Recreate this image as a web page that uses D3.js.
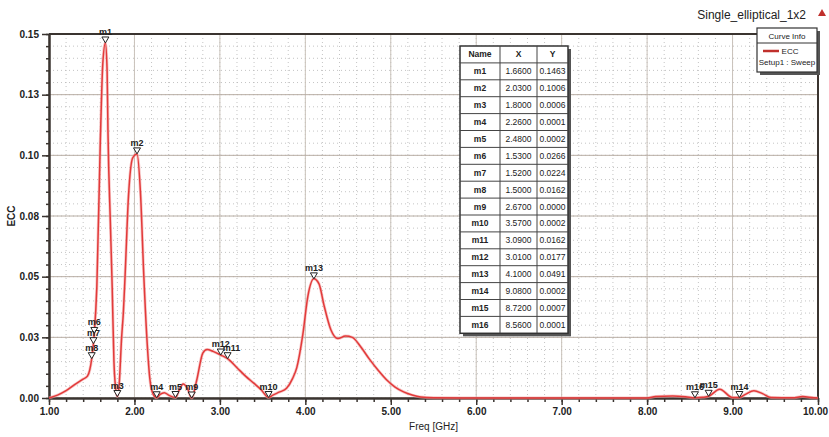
<!DOCTYPE html>
<html>
<head>
<meta charset="utf-8">
<script src="https://cdn.jsdelivr.net/npm/d3@7"></script>
<style>
  body { margin: 0; background: #fff; }
  text { font-family: "Liberation Sans Narrow", "Liberation Sans", Arial, sans-serif; }
</style>
</head>
<body>
<div id="chart"></div>
<script>
// ECC curve
var freq = [1.00, 1.10, 1.20, 1.30, 1.40, 1.45, 1.50, 1.52, 1.53, 1.56, 1.60, 1.63, 1.66, 1.68, 1.69,
            1.72, 1.74, 1.76, 1.78, 1.80, 1.82, 1.85, 1.87, 1.89, 1.93, 1.98, 2.03, 2.07, 2.11, 2.15,
            2.18, 2.22, 2.26, 2.30, 2.35, 2.40, 2.48, 2.52, 2.57, 2.62, 2.67, 2.73, 2.80, 2.85, 2.92,
            3.01, 3.09, 3.20, 3.30, 3.40, 3.48, 3.57, 3.62, 3.70, 3.78, 3.85, 3.90, 3.97, 4.03, 4.10,
            4.16, 4.22, 4.30, 4.38, 4.47, 4.55, 4.65, 4.75, 4.85, 4.95, 5.05, 5.15, 5.25, 5.35, 5.50,
            6.00, 7.00, 8.00, 8.10, 8.30, 8.45, 8.56, 8.65, 8.72, 8.85, 9.00, 9.08, 9.15, 9.25, 9.35,
            9.45, 9.70, 9.82, 9.95, 10.00];
var ecc = [0.0000, 0.0012, 0.0030, 0.0055, 0.0078, 0.0090, 0.0162, 0.0224, 0.0266, 0.0460, 0.1050, 0.1380, 0.1463, 0.1350, 0.1100,
           0.0700, 0.0450, 0.0150, 0.0040, 0.0006, 0.0050, 0.0250, 0.0350, 0.0500, 0.0830, 0.0990, 0.1006, 0.0850, 0.0500, 0.0220,
           0.0080, 0.0015, 0.0001, 0.0015, 0.0022, 0.0012, 0.0002, 0.0030, 0.0058, 0.0040, 0.0000, 0.0075, 0.0185, 0.0200, 0.0192,
           0.0177, 0.0162, 0.0125, 0.0090, 0.0060, 0.0035, 0.0002, 0.0012, 0.0025, 0.0040, 0.0080, 0.0125, 0.0260, 0.0420, 0.0491,
           0.0470, 0.0380, 0.0280, 0.0245, 0.0255, 0.0250, 0.0210, 0.0160, 0.0115, 0.0075, 0.0045, 0.0025, 0.0012, 0.0004, 0.0001,
           0.0000, 0.0000, 0.0000, 0.0006, 0.0008, 0.0005, 0.0001, 0.0003, 0.0007, 0.0036, 0.0002, 0.0002, 0.0015, 0.0030, 0.0018,
           0.0002, 0.0001, 0.0006, 0.0001, 0.0000];

// markers (also the table)
var markerNames = ["m1", "m2", "m3", "m4", "m5", "m6", "m7", "m8", "m9", "m10", "m11", "m12", "m13", "m14", "m15", "m16"];
var markerX = [1.66, 2.03, 1.80, 2.26, 2.48, 1.53, 1.52, 1.50, 2.67, 3.57, 3.09, 3.01, 4.10, 9.08, 8.72, 8.56];
var markerY = [0.1463, 0.1006, 0.0006, 0.0001, 0.0002, 0.0266, 0.0224, 0.0162, 0.0000, 0.0002, 0.0162, 0.0177, 0.0491, 0.0002, 0.0007, 0.0001];

var xTicks = [1, 2, 3, 4, 5, 6, 7, 8, 9, 10];
var xTickLabels = ["1.00", "2.00", "3.00", "4.00", "5.00", "6.00", "7.00", "8.00", "9.00", "10.00"];
var yTicks = [0, 0.025, 0.05, 0.075, 0.1, 0.125, 0.15];
var yTickLabels = ["0.00", "0.03", "0.05", "0.08", "0.10", "0.13", "0.15"];

var width = 829, height = 437;
// plot box (window.top is taken, so prefixed names)
var pLeft = 49, pRight = 818, pTop = 34, pBottom = 398;

var svg = d3.select("#chart").append("svg")
    .attr("width", width)
    .attr("height", height);

var x = d3.scaleLinear().domain([1, 10]).range([pLeft, pRight]);
var y = d3.scaleLinear().domain([0, 0.15]).range([pBottom, pTop]);

var minorX = d3.range(1, 10.001, 0.2);
var minorY = d3.range(0, 0.1501, 0.005);

// minor grid (dotted)
var grid = svg.append("g");
grid.selectAll("line.mx")
    .data(minorX)
    .enter().append("line")
      .attr("x1", d => x(d)).attr("x2", d => x(d))
      .attr("y1", pTop).attr("y2", pBottom)
      .attr("stroke", "#b5b5b5")
      .attr("stroke-width", 0.8)
      .attr("stroke-dasharray", "1,3");
grid.selectAll("line.my")
    .data(minorY)
    .enter().append("line")
      .attr("y1", d => y(d)).attr("y2", d => y(d))
      .attr("x1", pLeft).attr("x2", pRight)
      .attr("stroke", "#b5b5b5")
      .attr("stroke-width", 0.8)
      .attr("stroke-dasharray", "1,3");

// major grid
grid.selectAll("line.gx")
    .data(xTicks)
    .enter().append("line")
      .attr("x1", d => x(d)).attr("x2", d => x(d))
      .attr("y1", pTop).attr("y2", pBottom)
      .attr("stroke", "#c9c2ba")
      .attr("stroke-width", 1);
grid.selectAll("line.gy")
    .data(yTicks)
    .enter().append("line")
      .attr("y1", d => y(d)).attr("y2", d => y(d))
      .attr("x1", pLeft).attr("x2", pRight)
      .attr("stroke", "#b8aea4")
      .attr("stroke-width", 1);

// frame
svg.append("line").attr("x1", pLeft).attr("x2", pRight).attr("y1", pTop).attr("y2", pTop)
    .attr("stroke", "#3a3430").attr("stroke-width", 2);
svg.append("line").attr("x1", pRight).attr("x2", pRight).attr("y1", pTop).attr("y2", pBottom)
    .attr("stroke", "#3a3430").attr("stroke-width", 2);

// axes
function styleAxis(g) {
  g.select(".domain").attr("stroke", "#3a3430").attr("stroke-width", 2);
  g.selectAll(".tick line").attr("stroke", "#3a3430").attr("stroke-width", 1.5);
  g.selectAll(".tick text")
    .attr("fill", "#222")
    .style("font-size", "10px")
    .style("font-weight", "bold");
}

svg.append("g")
    .attr("transform", "translate(" + pLeft + ",0)")
    .call(d3.axisLeft(y).tickValues(minorY).tickFormat("").tickSize(3).tickSizeOuter(0))
    .call(styleAxis);
svg.append("g")
    .attr("transform", "translate(" + pLeft + ",0)")
    .call(d3.axisLeft(y).tickValues(yTicks).tickFormat((d, i) => yTickLabels[i]).tickSize(7).tickPadding(3).tickSizeOuter(0))
    .call(styleAxis);

svg.append("g")
    .attr("transform", "translate(0," + pBottom + ")")
    .call(d3.axisBottom(x).tickValues(minorX).tickFormat("").tickSize(4).tickSizeOuter(0))
    .call(styleAxis);
var xAxis = svg.append("g")
    .attr("transform", "translate(0," + pBottom + ")")
    .call(d3.axisBottom(x).tickValues(xTicks).tickFormat((d, i) => xTickLabels[i]).tickSize(7).tickPadding(3).tickSizeOuter(0))
    .call(styleAxis);
// keep "10.00" inside the window
xAxis.selectAll(".tick text").filter(d => d == 10).attr("dx", -3);

// axis titles
svg.append("text")
    .attr("x", (pLeft + pRight) / 2)
    .attr("y", 430)
    .attr("text-anchor", "middle")
    .style("font-size", "10px")
    .attr("fill", "#222")
    .text("Freq [GHz]");

svg.append("text")
    .attr("transform", "translate(15," + ((pTop + pBottom) / 2) + ") rotate(-90)")
    .attr("text-anchor", "middle")
    .style("font-size", "10px")
    .style("font-weight", "bold")
    .attr("fill", "#222")
    .text("ECC");

// curve
var pts = freq.map((f, i) => [f, ecc[i]]);
var line = d3.line()
    .x(d => x(d[0]))
    .y(d => y(d[1]))
    .curve(d3.curveMonotoneX);

svg.append("path")
    .datum(pts)
    .attr("d", line)
    .attr("fill", "none")
    .attr("stroke", "#f2a0a0")
    .attr("stroke-width", 3)
    .attr("opacity", 0.6);
svg.append("path")
    .datum(pts)
    .attr("d", line)
    .attr("fill", "none")
    .attr("stroke", "#e23a3a")
    .attr("stroke-width", 1.5);

// markers
var mk = svg.append("g")
    .selectAll("g")
    .data(markerNames)
    .enter().append("g")
      .attr("transform", (d, i) => "translate(" + x(markerX[i]) + "," + y(markerY[i]) + ")");
mk.append("path")
    .attr("d", "M0,0L-3.5,-6L3.5,-6Z")
    .attr("fill", "white")
    .attr("stroke", "#222")
    .attr("stroke-width", 1);
mk.append("text")
    .attr("y", -8)
    .attr("x", d => d == "m11" ? 4 : 0)
    .attr("text-anchor", "middle")
    .style("font-size", "9px")
    .style("font-weight", "bold")
    .attr("fill", "#222")
    .text(d => d);

// marker table
var tx = 460, ty = 46, rowH = 16.9;
var colW = [40, 37, 31];
var tW = d3.sum(colW), tH = rowH * (markerNames.length + 1);
var table = svg.append("g").attr("transform", "translate(" + tx + "," + ty + ")");
table.append("rect").attr("x", 3).attr("y", 3).attr("width", tW).attr("height", tH).attr("fill", "#555");
table.append("rect").attr("width", tW).attr("height", tH)
    .attr("fill", "white").attr("stroke", "#333").attr("stroke-width", 1.5);

var rows = [["Name", "X", "Y"]].concat(markerNames.map((n, i) => [n, markerX[i].toFixed(4), markerY[i].toFixed(4)]));
var colX = [0, colW[0], colW[0] + colW[1]];

table.selectAll("line.r")
    .data(d3.range(1, rows.length))
    .enter().append("line")
      .attr("x1", 0).attr("x2", tW)
      .attr("y1", d => d * rowH).attr("y2", d => d * rowH)
      .attr("stroke", "#444").attr("stroke-width", 1);
table.selectAll("line.c")
    .data([1, 2])
    .enter().append("line")
      .attr("x1", d => colX[d]).attr("x2", d => colX[d])
      .attr("y1", 0).attr("y2", tH)
      .attr("stroke", "#444").attr("stroke-width", 1);

rows.forEach(function(r, ri) {
  r.forEach(function(c, ci) {
    table.append("text")
      .attr("x", colX[ci] + colW[ci] / 2)
      .attr("y", ri * rowH + rowH / 2 + 3)
      .attr("text-anchor", "middle")
      .style("font-size", "8.5px")
      .style("font-weight", ri == 0 || ci == 0 ? "bold" : "normal")
      .attr("fill", "#222")
      .text(c);
  });
});

// title
svg.append("text")
    .attr("x", 806)
    .attr("y", 19)
    .attr("text-anchor", "end")
    .style("font-size", "12px")
    .attr("fill", "#222")
    .text("Single_elliptical_1x2");
svg.append("path")
    .attr("d", "M822,9L826,16L818,16Z")
    .attr("fill", "#c0302c");

// curve info legend
var lg = svg.append("g").attr("transform", "translate(757,28)");
lg.append("rect").attr("x", 3).attr("y", 3).attr("width", 60).attr("height", 44).attr("fill", "#555");
lg.append("rect").attr("width", 60).attr("height", 44)
    .attr("fill", "white").attr("stroke", "#333").attr("stroke-width", 1.2);
lg.append("line").attr("x1", 0).attr("x2", 60).attr("y1", 15).attr("y2", 15)
    .attr("stroke", "#333").attr("stroke-width", 1);
lg.append("text").attr("x", 30).attr("y", 11).attr("text-anchor", "middle")
    .style("font-size", "8px").attr("fill", "#222").text("Curve Info");
lg.append("line").attr("x1", 6).attr("x2", 22).attr("y1", 23).attr("y2", 23)
    .attr("stroke", "#c0302c").attr("stroke-width", 2.5);
lg.append("text").attr("x", 33).attr("y", 26).attr("text-anchor", "middle")
    .style("font-size", "8px").attr("fill", "#222").text("ECC");
lg.append("text").attr("x", 30).attr("y", 37).attr("text-anchor", "middle")
    .style("font-size", "8px").attr("fill", "#222").text("Setup1 : Sweep");
</script>
</body>
</html>
